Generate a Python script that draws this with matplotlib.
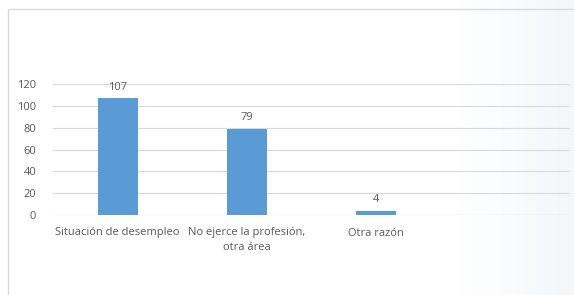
import matplotlib.pyplot as plt
import numpy as np
from matplotlib.patches import Rectangle

plt.rcParams['font.family'] = ['Open Sans', 'DejaVu Sans']

categorias = ['Situación de desempleo', 'No ejerce la profesión,\notra área', 'Otra razón']
valores = [107, 79, 4]
ticks_y = [0, 20, 40, 60, 80, 100, 120]

texto = '#595959'
azul = '#5B9BD5'

fig = plt.figure(figsize=(5.74, 2.95), dpi=100)

# fondo con un leve degradado azulado a la derecha
grad = np.linspace(0, 1, 256)
grad = np.clip((grad - 0.8) / 0.2, 0, 1)[None, :]
bg = fig.add_axes([0, 0, 1, 1], zorder=-2)
bg.imshow(grad, aspect='auto', cmap=plt.matplotlib.colors.LinearSegmentedColormap.from_list(
    'g', ['#ffffff', '#f3f7fa']), extent=[0, 1, 0, 1])
bg.set_axis_off()
bg.add_patch(Rectangle((8 / 574, -0.1), 1.2, 1 - 9 / 295 + 0.1, transform=bg.transAxes,
                       fill=False, edgecolor='#d9d9d9', linewidth=1))
bg.set_xlim(0, 1)
bg.set_ylim(0, 1)

ax = fig.add_axes([53 / 574, 1 - 215 / 295, (570 - 53) / 574, (215 - 84) / 295])
ax.patch.set_alpha(0)
x = np.arange(len(categorias))
barras = ax.bar(x, valores, width=0.31, color=azul, zorder=3)

for b in barras:
    ax.annotate(f'{b.get_height():.0f}', xy=(b.get_x() + b.get_width() / 2, b.get_height()),
                xytext=(0, 4), textcoords='offset points', ha='center', va='bottom',
                fontsize=8, color=texto)

ax.set_xlim(-0.5, 3.5)
ax.set_ylim(0, 120)
ax.set_yticks(ticks_y)
ax.set_xticks(x)
ax.set_xticklabels(categorias, fontsize=8, color=texto, linespacing=1.45)
ax.tick_params(axis='y', labelsize=8, labelcolor=texto, length=0, pad=12)
ax.tick_params(axis='x', length=0, pad=9)
ax.yaxis.grid(True, color='#d9d9d9', linewidth=0.8, zorder=0)
for s in ax.spines.values():
    s.set_visible(False)
ax.axhline(0, color='#d9d9d9', linewidth=0.8, zorder=1)

fig.savefig('out.png', dpi=100)
